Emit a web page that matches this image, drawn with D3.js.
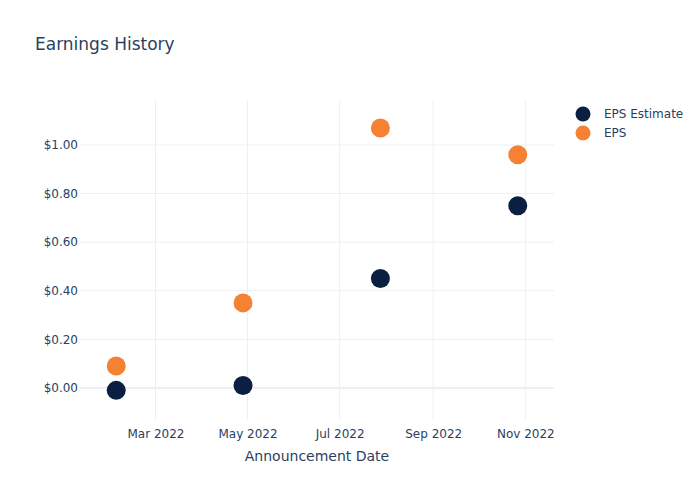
<!DOCTYPE html>
<html><head><meta charset="utf-8">
<script src="https://cdn.jsdelivr.net/npm/d3@7"></script>
<style>body{margin:0;background:#fff;}text{font-family:"DejaVu Sans",Verdana,sans-serif;}</style>
</head><body><svg id="c" width="700" height="500"></svg>
<script>
const dates = ["2022-02-03","2022-04-28","2022-07-28","2022-10-27"];
const epsEstimate = [-0.01, 0.01, 0.45, 0.75];
const eps = [0.09, 0.35, 1.07, 0.96];
const yTicks = [0, 0.2, 0.4, 0.6, 0.8, 1.0];
const xTicks = ["2022-03-01","2022-05-01","2022-07-01","2022-09-01","2022-11-01"];
const seriesNames = ["EPS Estimate","EPS"];
const colors = ["#0b1f41","#f58233"];

const parse = d3.utcParse("%Y-%m-%d");
const svg = d3.select("#c");
const L=80,R=554,T=100,B=420;
const x = d3.scaleUtc().domain([parse("2022-01-10"), parse("2022-11-20")]).range([L,R]);
const y = d3.scaleLinear().domain([-0.132, 1.185]).range([B,T]);
const txt="#2a3f5f", grid="#ebf0f8";

// grid
svg.append("g").selectAll("line").data(xTicks).join("line")
  .attr("x1",d=>x(parse(d))).attr("x2",d=>x(parse(d))).attr("y1",T).attr("y2",B)
  .attr("stroke",grid).attr("stroke-width",1);
svg.append("g").selectAll("line").data(yTicks).join("line")
  .attr("x1",L).attr("x2",R).attr("y1",d=>y(d)).attr("y2",d=>y(d))
  .attr("stroke",grid).attr("stroke-width",d=>d===0?2:1);

// axes
const xa = svg.append("g").attr("transform",`translate(0,${B})`)
  .call(d3.axisBottom(x).tickValues(xTicks.map(parse)).tickFormat(d3.utcFormat("%b %Y")).tickSize(0).tickPadding(9));
xa.select(".domain").remove();
xa.selectAll("text").attr("fill",txt).style("font-size","12px");
const ya = svg.append("g").attr("transform",`translate(${L},0)`)
  .call(d3.axisLeft(y).tickValues(yTicks).tickFormat(d=>"$"+d.toFixed(2)).tickSize(0).tickPadding(2));
ya.select(".domain").remove();
ya.selectAll("text").attr("fill",txt).style("font-size","12px");

// points
[epsEstimate, eps].forEach((vals,i)=>{
  svg.append("g").selectAll("circle").data(vals).join("circle")
    .attr("cx",(d,j)=>x(parse(dates[j]))).attr("cy",d=>y(d)).attr("r",9.5)
    .attr("fill",colors[i]);
});

// title
svg.append("text").attr("x",35).attr("y",50).text("Earnings History")
  .attr("fill",txt).style("font-size","17px");
svg.append("text").attr("x",(L+R)/2).attr("y",461).attr("text-anchor","middle")
  .text("Announcement Date").attr("fill",txt).style("font-size","14px");

// legend
const lg = svg.append("g");
seriesNames.forEach((n,i)=>{
  lg.append("circle").attr("cx",583).attr("cy",114+i*19).attr("r",7.5).attr("fill",colors[i]);
  lg.append("text").attr("x",604).attr("y",118+i*19).text(n).attr("fill",txt).style("font-size","12px");
});
</script></body></html>
